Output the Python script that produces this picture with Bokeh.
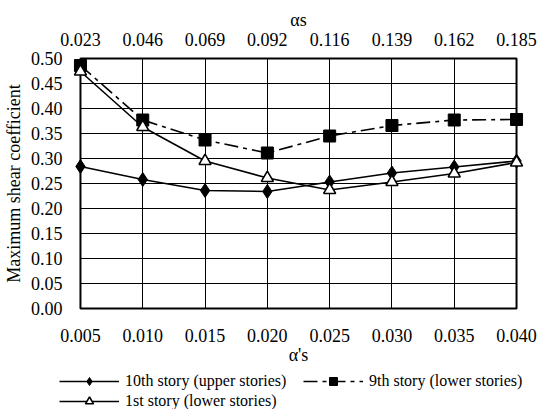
from bokeh.plotting import figure
from bokeh.layouts import column
from bokeh.models import (LinearAxis, FixedTicker, Legend, LegendItem, Range1d, ColumnDataSource, BoxAnnotation)
from bokeh.embed import file_html
from bokeh.resources import INLINE

# Data
alpha_prime_s = [0.005, 0.010, 0.015, 0.020, 0.025, 0.030, 0.035, 0.040]
alpha_s_labels = ["0.023", "0.046", "0.069", "0.092", "0.116", "0.139", "0.162", "0.185"]
story10_upper = [0.284, 0.258, 0.236, 0.234, 0.253, 0.271, 0.283, 0.295]
story9_lower = [0.486, 0.377, 0.337, 0.311, 0.345, 0.366, 0.377, 0.378]
story1_lower = [0.474, 0.363, 0.295, 0.261, 0.237, 0.253, 0.270, 0.292]
y_ticks = [0.0, 0.05, 0.10, 0.15, 0.20, 0.25, 0.30, 0.35, 0.40, 0.45, 0.50]
series_labels = ["10th story (upper stories)", "1st story (lower stories)", "9th story (lower stories)"]

FONT = "Liberation Serif"

X0, X1 = alpha_prime_s[0], alpha_prime_s[-1]
Y0, Y1 = y_ticks[0], y_ticks[-1]

# plot box: 438 x 250 px; frame padded by PAD px so edge markers are not clipped
BOX_W, BOX_H, PAD = 438, 250, 8
dx = PAD * (X1 - X0) / BOX_W
dy = PAD * (Y1 - Y0) / BOX_H

p = figure(width=537, height=370, output_backend="svg", toolbar_location=None,
           x_range=Range1d(X0 - dx, X1 + dx), y_range=Range1d(Y0 - dy, Y1 + dy),
           min_border_left=78 - PAD, min_border_right=21 - PAD,
           min_border_top=58 - PAD, min_border_bottom=370 - 308 - PAD,
           background_fill_color="white", border_fill_color="white")

p.outline_line_color = None

bottom = p.xaxis[0]
left = p.yaxis[0]

bottom.ticker = FixedTicker(ticks=alpha_prime_s)
left.ticker = FixedTicker(ticks=y_ticks)
bottom.major_label_overrides = {v: f"{v:.3f}" for v in alpha_prime_s}
left.major_label_overrides = {v: f"{v:.2f}" for v in y_ticks}
bottom.axis_label = "α's"
left.axis_label = "Maximum shear coefficient"

top = LinearAxis(ticker=FixedTicker(ticks=alpha_prime_s), axis_label="αs")
top.major_label_overrides = {v: lab for v, lab in zip(alpha_prime_s, alpha_s_labels)}
p.add_layout(top, "above")

for ax in [bottom, left, top]:
    ax.major_label_text_font = FONT
    ax.major_label_text_font_size = "18px"
    ax.major_label_text_color = "black"
    ax.axis_label_text_font = FONT
    ax.axis_label_text_font_size = "18px"
    ax.axis_label_text_font_style = "normal"
    ax.axis_label_text_color = "black"
    ax.major_tick_line_color = None
    ax.minor_tick_line_color = None
    ax.major_tick_out = 0
    ax.major_tick_in = 0
    ax.minor_tick_out = 0
    ax.minor_tick_in = 0
    ax.axis_line_color = None

bottom.major_label_standoff = 12
bottom.axis_label_standoff = 0
top.major_label_standoff = 5
top.axis_label_standoff = 0
left.major_label_standoff = 18 - PAD
left.axis_label_standoff = 4

for g in [p.xgrid[0], p.ygrid[0]]:
    g.grid_line_color = "black"
    g.grid_line_width = 1
    g.grid_line_alpha = 1
p.xgrid[0].bounds = (X0, X1)
p.xgrid[0].cross_bounds = (Y0, Y1)
p.ygrid[0].bounds = (Y0, Y1)
p.ygrid[0].cross_bounds = (X0, X1)

box = BoxAnnotation(left=X0, right=X1, bottom=Y0, top=Y1, fill_alpha=0,
                    line_color="black", line_width=2, line_alpha=1, level="underlay")
p.add_layout(box)

src = ColumnDataSource(dict(x=alpha_prime_s, s10=story10_upper, s9=story9_lower, s1=story1_lower))

LINE_W = 1.6
DASH = "14 5 4 5"


def draw_series(fig, source):
    r = {}
    r["10l"] = fig.line("x", "s10", source=source, line_color="black", line_width=LINE_W)
    r["10m"] = fig.scatter("x", "s10", source=source, marker="diamond", size=14, fill_color="black", line_color="black")
    r["9l"] = fig.line("x", "s9", source=source, line_color="black", line_width=LINE_W, line_dash=DASH)
    r["9m"] = fig.scatter("x", "s9", source=source, marker="square", size=12, fill_color="black", line_color="black")
    r["1l"] = fig.line("x", "s1", source=source, line_color="black", line_width=LINE_W)
    r["1m"] = fig.scatter("x", "s1", source=source, marker="triangle", size=12, fill_color="white",
                          line_color="black", line_width=LINE_W)
    return r


draw_series(p, src)

# Legend strip below the chart (its data lies outside its own ranges, only legend glyphs show)
q = figure(width=537, height=39, output_backend="svg", toolbar_location=None,
           x_range=Range1d(10, 11), y_range=Range1d(10, 11),
           x_axis_type=None, y_axis_type=None,
           min_border_left=0, min_border_right=0, min_border_top=0, min_border_bottom=0,
           background_fill_color="white", border_fill_color="white")
q.frame_align = False
q.outline_line_color = None
q.xgrid.visible = False
q.ygrid.visible = False

rq = draw_series(q, src)

legend = Legend(items=[
    LegendItem(label=series_labels[0], renderers=[rq["10l"], rq["10m"]]),
    LegendItem(label=series_labels[1], renderers=[rq["1l"], rq["1m"]]),
    LegendItem(label=series_labels[2], renderers=[rq["9l"], rq["9m"]]),
], ncols=2, location=(59, -2))
legend.label_text_font = FONT
legend.label_text_font_size = "16px"
legend.label_text_color = "black"
legend.glyph_width = 60
legend.glyph_height = 20
legend.label_height = 16
legend.label_width = 178
legend.spacing = 0
legend.padding = 0
legend.margin = 0
legend.label_standoff = 6
legend.border_line_color = None
legend.background_fill_alpha = 0
q.add_layout(legend, "center")

layout = column(p, q, spacing=0)
open("out.html", "w").write(file_html(layout, INLINE))
